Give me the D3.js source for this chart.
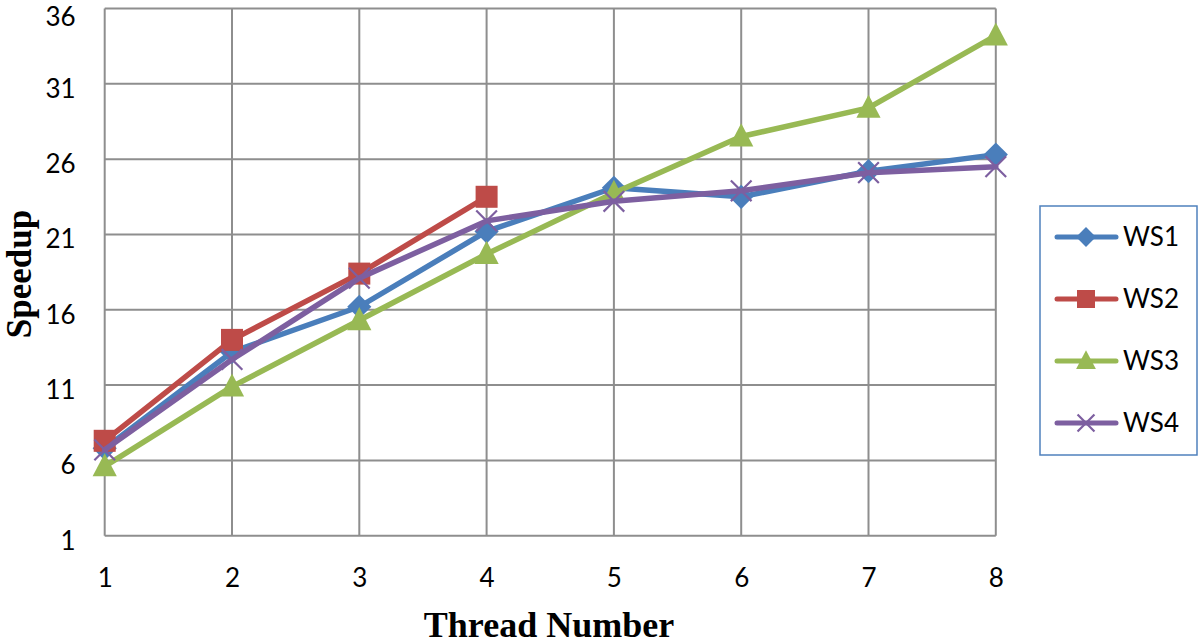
<!DOCTYPE html>
<html><head><meta charset="utf-8">
<script src="https://cdn.jsdelivr.net/npm/d3@7"></script>
<style>body{margin:0;background:#fff}svg{display:block}</style>
</head><body>
<svg id="c" width="1200" height="644"></svg>
<script>
const threads = [1,2,3,4,5,6,7,8];
const yTicks = [1,6,11,16,21,26,31,36];
const ws1 = [6.8,13.2,16.2,21.2,24.1,23.5,25.2,26.3];
const ws2 = [7.3,14.0,18.4,23.5];
const ws3 = [5.6,10.9,15.3,19.7,23.75,27.5,29.4,34.2];
const ws4 = [6.7,12.7,18.1,21.9,23.2,23.9,25.1,25.5];
const seriesNames = ["WS1","WS2","WS3","WS4"];
const seriesColors = ["#4a7ebb","#be4b48","#98b954","#7d5fa0"];
const seriesShapes = ["diamond","square","triangle","x"];
const seriesData = [ws1,ws2,ws3,ws4];

const svg = d3.select("#c");
const x = d3.scaleLinear().domain([1,8]).range([104.7,995.8]);
const y = d3.scaleLinear().domain([1,36]).range([535.7,8.5]);
const grid = "#8e8e8e";
const font = "Lato, 'Open Sans', sans-serif";

// gridlines
svg.append("g").selectAll("line.h").data(yTicks).join("line")
  .attr("x1",x(1)).attr("x2",x(8)).attr("y1",d=>y(d)).attr("y2",d=>y(d))
  .attr("stroke",grid).attr("stroke-width",2);
svg.append("g").selectAll("line.v").data(threads).join("line")
  .attr("y1",y(1)).attr("y2",y(36)).attr("x1",d=>x(d)).attr("x2",d=>x(d))
  .attr("stroke",grid).attr("stroke-width",2);

// axes
const yAxis = d3.axisLeft(y).tickValues(yTicks).tickSize(0).tickPadding(29);
const gy = svg.append("g").attr("transform",`translate(${x(1)},5)`).call(yAxis);
gy.select(".domain").remove();
gy.selectAll("text").attr("font-family",font).attr("font-size",26).attr("fill","#000")
  .attr("dy", d => d === 36 ? "0.45em" : "0.32em");
const xAxis = d3.axisBottom(x).tickValues(threads).tickFormat(d3.format("d")).tickSize(0).tickPadding(33);
const gx = svg.append("g").attr("transform",`translate(0,${y(1)})`).call(xAxis);
gx.select(".domain").remove();
gx.selectAll("text").attr("font-family",font).attr("font-size",26).attr("fill","#000");

// titles
svg.append("text").attr("x",549).attr("y",637).attr("text-anchor","middle")
  .attr("font-family","'Liberation Serif','Times New Roman',serif").attr("font-weight","bold")
  .attr("font-size",36).text("Thread Number");
svg.append("text").attr("transform","translate(31,274) rotate(-90)").attr("text-anchor","middle")
  .attr("font-family","'Liberation Serif','Times New Roman',serif").attr("font-weight","bold")
  .attr("font-size",35).text("Speedup");

function marker(g, shape, color, cx, cy, s){
  if(shape==="diamond"){
    g.append("path").attr("d",`M${cx},${cy-s*0.55}L${cx+s*0.55},${cy}L${cx},${cy+s*0.55}L${cx-s*0.55},${cy}Z`).attr("fill",color);
  } else if(shape==="square"){
    g.append("rect").attr("x",cx-s*0.5).attr("y",cy-s*0.5).attr("width",s).attr("height",s).attr("fill",color);
  } else if(shape==="triangle"){
    g.append("path").attr("d",`M${cx},${cy-s*0.6}L${cx+s*0.55},${cy+s*0.45}L${cx-s*0.55},${cy+s*0.45}Z`).attr("fill",color);
  } else {
    const r = s*0.47;
    g.append("path").attr("d",`M${cx-r},${cy-r}L${cx+r},${cy+r}M${cx+r},${cy-r}L${cx-r},${cy+r}`)
      .attr("stroke",color).attr("stroke-width",2.2);
  }
}

const line = d3.line().x((d,i)=>x(threads[i])).y(d=>y(d));
seriesData.forEach((data,k)=>{
  const g = svg.append("g");
  g.append("path").datum(data).attr("d",line).attr("fill","none")
    .attr("stroke",seriesColors[k]).attr("stroke-width",5.5).attr("stroke-linejoin","round").attr("stroke-linecap","round");
  data.forEach((v,i)=>marker(g, seriesShapes[k], seriesColors[k], x(threads[i]), y(v), 22));
});

// legend
const lg = svg.append("g");
lg.append("rect").attr("x",1040).attr("y",206).attr("width",157).attr("height",249)
  .attr("fill","#fff").attr("stroke","#4f81bd").attr("stroke-width",1.5);
seriesNames.forEach((n,k)=>{
  const ly = 237 + k*62;
  lg.append("line").attr("x1",1057).attr("x2",1116).attr("y1",ly).attr("y2",ly)
    .attr("stroke",seriesColors[k]).attr("stroke-width",5).attr("stroke-linecap","round");
  marker(lg, seriesShapes[k], seriesColors[k], 1086, ly, 18);
  lg.append("text").attr("x",1123).attr("y",ly+9).attr("font-family",font).attr("font-size",26).text(n);
});
</script>
</body></html>
